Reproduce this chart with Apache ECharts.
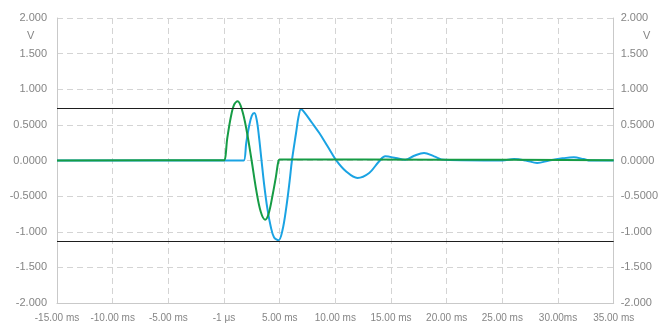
<!DOCTYPE html>
<html>
<head>
<meta charset="utf-8">
<script src="https://cdn.jsdelivr.net/npm/echarts@6/dist/echarts.min.js"></script>
<style>
  html, body { margin: 0; padding: 0; background: #ffffff; }
  #chart { width: 661px; height: 325px; }
</style>
</head>
<body>
<div id="chart"></div>
<script>
// Time axis ticks (ms) and their printed labels
const xTickValues = [-15, -10, -5, 0, 5, 10, 15, 20, 25, 30, 35];
const xTickLabels = ['-15.00 ms', '-10.00 ms', '-5.00 ms', '-1 μs', '5.00 ms', '10.00 ms',
                     '15.00 ms', '20.00 ms', '25.00 ms', '30.00ms', '35.00 ms'];

// Voltage axis ticks (V) and their printed labels
const yTickValues = [-2, -1.5, -1, -0.5, 0, 0.5, 1, 1.5, 2];
const yTickLabels = ['-2.000', '-1.500', '-1.000', '-0.5000', '0.0000', '0.5000', '1.000', '1.500', '2.000'];

// Channel B trace (blue): [time ms, volts]
const traceBTime = [-15, 1.4, 1.77, 2.0, 2.25, 2.5, 2.73, 2.95, 3.15, 3.35, 3.6, 3.9, 4.2, 4.5, 4.9,
  5.25, 5.6, 5.9, 6.1, 6.47, 6.7, 6.91, 7.2, 7.9, 8.56, 9.3, 10.05, 10.95, 11.99, 13.04, 13.94,
  14.48, 15.43, 16.27, 17.08, 17.97, 18.87, 19.77, 25.0, 26.05, 27.1, 28.13, 29.2, 30.4, 31.42,
  32.3, 32.92, 35];
const traceBVolts = [0, 0, 0, 0.25, 0.48, 0.63, 0.667, 0.56, 0.32, 0.03, -0.33, -0.68, -0.93, -1.08, -1.12,
  -0.98, -0.65, -0.28, 0.0, 0.386, 0.62, 0.72, 0.68, 0.53, 0.386, 0.2, 0.01, -0.15, -0.245, -0.175, -0.01,
  0.058, 0.035, 0.01, 0.067, 0.105, 0.058, 0.01, 0.0, 0.02, 0.0, -0.035, 0.0, 0.03, 0.045,
  0.02, 0.0, 0.0];

// Channel A trace (green): [time ms, volts]
const traceATime = [-15, -0.3, 0, 0.3, 0.6, 0.9, 1.23, 1.6, 2.0, 2.48, 2.9, 3.3, 3.69, 4.0, 4.37,
  4.65, 4.9, 5.05, 20, 35];
const traceAVolts = [0, 0.005, 0.005, 0.32, 0.6, 0.78, 0.83, 0.72, 0.45, 0.0, -0.42, -0.72, -0.83, -0.75, -0.48,
  -0.24, 0.0, 0.015, 0.012, 0.003];

// Threshold levels (V)
const thresholdUpper = 0.737;
const thresholdLower = -1.138;

const axisGray = '#c9c9c9';
const gridGray = '#d4d4d4';
const textGray = '#858585';
const fontFamily = '"Liberation Sans", Arial, sans-serif';

const zip = (xs, ys) => xs.map((x, i) => [x, ys[i]]);
const lookup = (vals, labels) => (v) => {
  const i = vals.findIndex(t => Math.abs(t - v) < 1e-9);
  return i >= 0 ? labels[i] : '';
};

const yAxisBase = {
  type: 'value',
  min: -2,
  max: 2,
  interval: 0.5,
  axisLine: { show: true, onZero: false, lineStyle: { color: axisGray, width: 1 } },
  axisTick: { show: false },
};

const chart = echarts.init(document.getElementById('chart'), null, { renderer: 'canvas' });
chart.setOption({
  animation: false,
  backgroundColor: '#ffffff',
  grid: { left: 57, right: 46, top: 18, bottom: 22, containLabel: false },
  xAxis: {
    type: 'value',
    min: -15,
    max: 35,
    interval: 5,
    axisLine: { show: true, onZero: false, lineStyle: { color: axisGray, width: 1 } },
    axisTick: { show: false },
    splitLine: { show: true, lineStyle: { color: gridGray, type: [6, 4], width: 1 } },
    axisLabel: {
      color: textGray, fontSize: 10, fontFamily, margin: 10,
      formatter: lookup(xTickValues, xTickLabels)
    }
  },
  yAxis: [
    Object.assign({}, yAxisBase, {
      position: 'left',
      splitLine: { show: true, lineStyle: { color: gridGray, type: [6, 4], width: 1 } },
      axisLabel: { color: textGray, fontSize: 11, fontFamily, margin: 10,
        formatter: lookup(yTickValues, yTickLabels) }
    }),
    Object.assign({}, yAxisBase, {
      position: 'right',
      splitLine: { show: false },
      axisLabel: { color: textGray, fontSize: 11, fontFamily, margin: 7,
        formatter: lookup(yTickValues, yTickLabels) }
    })
  ],
  graphic: [
    { type: 'text', left: 27, top: 30, style: { text: 'V', fill: textGray, font: '11px ' + fontFamily } },
    { type: 'text', left: 643, top: 30, style: { text: 'V', fill: textGray, font: '11px ' + fontFamily } }
  ],
  series: [
    {
      name: 'Channel B',
      type: 'line',
      data: zip(traceBTime, traceBVolts),
      showSymbol: false,
      smooth: 0.35,
      lineStyle: { color: '#1aa3e3', width: 2 },
      itemStyle: { color: '#1aa3e3' },
      markLine: {
        silent: true,
        symbol: 'none',
        label: { show: false },
        lineStyle: { color: '#1e1e1e', width: 1, type: 'solid' },
        data: [{ yAxis: thresholdUpper }, { yAxis: thresholdLower }]
      }
    },
    {
      name: 'Channel A',
      type: 'line',
      data: zip(traceATime, traceAVolts),
      showSymbol: false,
      smooth: 0.35,
      lineStyle: { color: '#169c45', width: 2 },
      itemStyle: { color: '#169c45' }
    }
  ]
});
</script>
</body>
</html>
